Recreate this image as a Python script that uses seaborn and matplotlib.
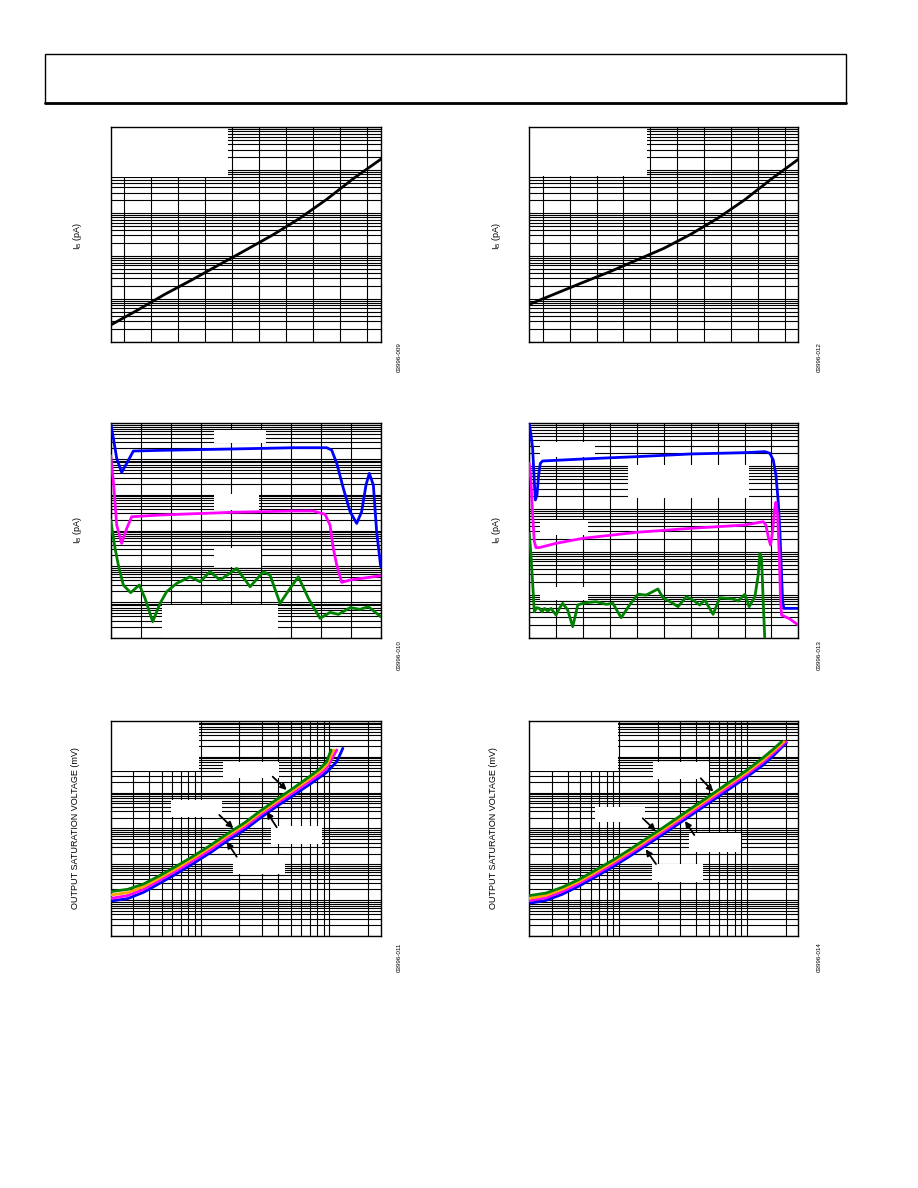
import numpy as np
import matplotlib
matplotlib.use("Agg")
import matplotlib.pyplot as plt
from matplotlib.patches import Rectangle
from matplotlib.lines import Line2D
from matplotlib.ticker import LogLocator, MultipleLocator
import seaborn as sns

# ---- data ----
# top row: I_B vs temperature (deg C), pA
temp = [25, 35, 45, 55, 65, 75, 85, 95, 105, 115, 125]
ib_temp_left = [0.245, 0.548, 1.27, 2.75, 6.15, 13.7, 30.8, 75.3, 209, 646, 1791]
ib_temp_right = [0.743, 1.34, 2.42, 4.30, 8.04, 15.0, 31.9, 75.3, 202, 624, 1791]

# middle left: I_B vs common-mode voltage
vcm_l_blue = [0, 0.18, 0.4, 0.73, 1.07, 1.51, 3.29, 8.0, 12.18, 14.4, 14.73, 15.07,
              15.51, 15.96, 16.4, 16.73, 17.02, 17.24, 17.51, 17.73, 18.0]
ib_l_blue = [9950, 3787, 1045, 424, 757, 1675, 1749, 1905, 2075, 2075, 1786, 757,
             151, 33.6, 15.8, 33.6, 187, 397, 187, 9.25, 0.97]
vcm_l_mag = [0, 0.18, 0.4, 0.73, 1.07, 1.4, 3.29, 8.0, 12.18, 13.51, 14.29, 14.62,
             14.84, 15.07, 15.4, 15.96, 18.0]
ib_l_mag = [1239, 232, 14.2, 4.37, 11.5, 24.3, 27.1, 32.2, 35.1, 35.1, 28.3, 14.2,
            3.16, 1.08, 0.354, 0.411, 0.543]
vcm_l_grn = [0, 0.29, 0.51, 0.84, 1.33, 1.91, 2.29, 2.8, 3.29, 3.73, 4.4, 5.29, 5.96,
             6.62, 7.29, 8.4, 9.29, 10.18, 10.62, 11.29, 11.96, 12.51, 13.18, 13.96,
             14.62, 15.18, 15.96, 16.62, 17.18, 18.0]
ib_l_grn = [19.6, 3.16, 1.08, 0.298, 0.182, 0.298, 0.126, 0.0281, 0.0914, 0.194,
            0.332, 0.509, 0.369, 0.703, 0.411, 0.871, 0.267, 0.703, 0.567, 0.0914,
            0.240, 0.509, 0.126, 0.0348, 0.0512, 0.0450, 0.0692, 0.0621, 0.0738, 0.0387]

# middle right: I_B vs common-mode voltage
vcm_r_blue = [0, 0.031, 0.062, 0.093, 0.112, 0.143, 0.174, 0.205, 0.248, 1.0, 2.0, 3.0,
              4.006, 4.379, 4.472, 4.534, 4.584, 4.627, 4.658, 4.689, 4.708, 4.733, 5.0]
ib_r_blue = [10000, 5346, 2612, 436, 163, 213, 624, 1167, 1322, 1472, 1668, 1926,
             2068, 2183, 1995, 1396, 624, 149, 29.7, 2.90, 0.692, 0.483, 0.483]
vcm_r_mag = [0, 0.031, 0.062, 0.093, 0.124, 0.186, 0.497, 1.0, 2.0, 3.0, 4.006, 4.348,
             4.397, 4.447, 4.484, 4.522, 4.559, 4.584, 4.615, 4.646, 4.671, 4.689,
             4.845, 5.0]
ib_r_mag = [1167, 436, 72.8, 17.4, 12.6, 12.6, 15.9, 20.8, 28.7, 35.5, 42.5, 50.8,
            42.5, 20.8, 14.5, 29.7, 95.1, 144, 72.8, 8.48, 0.692, 0.338, 0.272, 0.197]
vcm_r_grn = [0, 0.031, 0.050, 0.075, 0.093, 0.137, 0.186, 0.236, 0.280, 0.342, 0.404,
             0.497, 0.559, 0.621, 0.714, 0.807, 0.901, 0.994, 1.118, 1.242, 1.429,
             1.553, 1.708, 1.863, 2.019, 2.174, 2.391, 2.484, 2.671, 2.764, 2.919,
             3.043, 3.168, 3.261, 3.416, 3.540, 3.789, 3.882, 4.006, 4.087, 4.193,
             4.255, 4.286, 4.317, 4.348, 4.379]
ib_r_grn = [27.2, 8.48, 3.47, 0.989, 0.404, 0.501, 0.483, 0.404, 0.483, 0.419, 0.483,
            0.338, 0.483, 0.632, 0.442, 0.181, 0.578, 0.632, 0.667, 0.692, 0.600,
            0.632, 0.293, 0.578, 1.03, 0.989, 1.37, 0.857, 0.632, 0.529, 0.904,
            0.757, 0.578, 0.757, 0.350, 0.857, 0.798, 0.716, 1.03, 0.529, 0.904,
            2.90, 9.27, 7.10, 0.692, 0.08]

# bottom left: output saturation voltage vs load current
iload_l = [0.02, 0.027, 0.036, 0.048, 0.065, 0.088, 0.12, 0.16, 0.22, 0.29, 0.39,
           0.53, 0.71, 0.85, 0.95]
iload_l_end = {"green": 1.03, "orange": 1.08, "magenta": 1.14}
vsat_l_grn = [0.173, 0.200, 0.283, 0.483, 0.898, 1.71, 3.47, 7.03, 14.6, 30.8, 65.2,
              138, 292, 478, 733, 1552]
vsat_l_org = [0.139, 0.162, 0.238, 0.416, 0.773, 1.50, 3.05, 6.18, 12.8, 27.1, 57.3,
              121, 251, 403, 592, 1552]
vsat_l_mag = [0.112, 0.134, 0.200, 0.358, 0.666, 1.29, 2.62, 5.43, 11.2, 23.8, 50.4,
              104, 216, 332, 478, 1552]
iload_l_blue = [0.02, 0.027, 0.036, 0.048, 0.065, 0.088, 0.12, 0.16, 0.22, 0.29, 0.39,
                0.53, 0.71, 0.95, 1.14, 1.27]
vsat_l_blue = [0.0948, 0.110, 0.166, 0.295, 0.549, 1.07, 2.16, 4.48, 9.27, 19.6, 41.6,
               86.1, 175, 369, 733, 1726]

# bottom right: output saturation voltage vs load current
iload_r = [0.02, 0.027, 0.036, 0.049, 0.066, 0.09, 0.121, 0.163, 0.22, 0.297, 0.40,
           0.54, 0.73, 0.99, 1.33, 1.59]
iload_r_end = {"green": 1.85, "orange": 1.93, "magenta": 2.0, "blue": 2.02}
vsat_r_grn = [0.134, 0.158, 0.228, 0.381, 0.695, 1.32, 2.57, 5.20, 10.5, 21.9, 45.3,
              93.8, 199, 420, 948, 1619, 2649]
vsat_r_org = [0.112, 0.136, 0.200, 0.336, 0.611, 1.16, 2.26, 4.57, 9.27, 19.2, 39.8,
              82.4, 175, 369, 817, 1423, 2649]
vsat_r_mag = [0.0968, 0.117, 0.173, 0.295, 0.537, 1.02, 1.99, 4.03, 8.16, 16.9, 35.0,
              72.5, 153, 325, 718, 1253, 2649]
vsat_r_blue = [0.0816, 0.0989, 0.145, 0.249, 0.453, 0.861, 1.67, 3.39, 6.87, 14.2, 29.5,
               61.1, 129, 274, 592, 1055, 2483]

BLUE, MAG, GRN, ORG = "#0000ff", "#ff00ff", "#008000", "#ffa500"

sns.set_theme(style="white")
plt.rcParams['font.family'] = ['Liberation Sans', 'DejaVu Sans']

W, H = 918, 1188
fig = plt.figure(figsize=(W / 100, H / 100), dpi=100)


def fx(px):
    return px / W


def fy(py):
    return 1 - py / H


def make_axes(l, t, r, b, xlim, ylim, xlog=False):
    ax = fig.add_axes([fx(l), fy(b), (r - l) / W, (b - t) / H])
    ax.set_yscale("log")
    ax.set_ylim(*ylim)
    ax.yaxis.set_major_locator(LogLocator(base=10, numticks=20))
    ax.yaxis.set_minor_locator(LogLocator(base=10, subs=np.arange(2, 10), numticks=200))
    if xlog:
        ax.set_xscale("log")
        ax.xaxis.set_major_locator(LogLocator(base=10, numticks=20))
        ax.xaxis.set_minor_locator(LogLocator(base=10, subs=np.arange(2, 10), numticks=200))
    ax.set_xlim(*xlim)
    ax.set_axisbelow(True)
    ax.grid(True, which="both", color="black", lw=0.8)
    ax.tick_params(which="both", length=0, labelleft=False, labelbottom=False)
    for s in ax.spines.values():
        s.set_color("black")
        s.set_linewidth(1.0)
    return ax


def blank(ax, l, t, r, b):
    ax.add_patch(Rectangle((fx(l), fy(b)), (r - l) / W, (b - t) / H,
                           transform=fig.transFigure, facecolor="white",
                           edgecolor="none", zorder=1))


def arrow(ax, tail, head):
    ax.annotate("", xy=(fx(head[0]), fy(head[1])), xycoords="figure fraction",
                xytext=(fx(tail[0]), fy(tail[1])), textcoords="figure fraction",
                arrowprops=dict(arrowstyle="-|>", color="black", lw=1.3,
                                mutation_scale=9, shrinkA=0, shrinkB=0))


def curve(ax, x, y, color, lw=2.0):
    sns.lineplot(x=x, y=y, ax=ax, color=color, lw=lw, estimator=None, sort=False,
                 zorder=3)


# header frame
fig.add_artist(Rectangle((fx(45), fy(103)), 801 / W, 49 / H, transform=fig.transFigure,
                         facecolor="none", edgecolor="black", lw=1.0))
fig.add_artist(Line2D([fx(45), fx(846)], [fy(102.5), fy(102.5)],
                      transform=fig.transFigure, color="black", lw=2.0))

IB = "I$_\\mathregular{B}$ (pA)"
VS = "OUTPUT SATURATION VOLTAGE (mV)"

# --- top left
ax1 = make_axes(110.7, 127.3, 380.7, 341.7, (25, 125), (0.1, 1e4))
ax1.xaxis.set_major_locator(MultipleLocator(10))
blank(ax1, 110.7, 127.3, 228.3, 176.5)
curve(ax1, temp, ib_temp_left, "black")

# --- top right
ax2 = make_axes(529.3, 127.3, 798.3, 341.7, (25, 125), (0.1, 1e4))
ax2.xaxis.set_major_locator(MultipleLocator(10))
blank(ax2, 529.3, 127.3, 646.7, 175.5)
curve(ax2, temp, ib_temp_right, "black")

# --- middle left
ax3 = make_axes(110.7, 423.3, 380.7, 637.7, (0, 18), (0.01, 1e4))
ax3.xaxis.set_major_locator(MultipleLocator(2))
blank(ax3, 214, 430, 265.7, 443.3)
blank(ax3, 214, 494.3, 259.3, 510)
blank(ax3, 214, 548, 261, 566.7)
blank(ax3, 161.7, 605, 278.3, 638)
curve(ax3, vcm_l_blue, ib_l_blue, BLUE)
curve(ax3, vcm_l_mag, ib_l_mag, MAG)
curve(ax3, vcm_l_grn, ib_l_grn, GRN)

# --- middle right
ax4 = make_axes(529.3, 423.3, 798.3, 637.7, (0, 5), (0.1, 1e4))
ax4.xaxis.set_major_locator(MultipleLocator(0.5))
blank(ax4, 540, 441.7, 595, 456.7)
blank(ax4, 627.7, 465, 749.3, 498.3)
blank(ax4, 540, 520, 588.3, 535)
blank(ax4, 540, 586.7, 588.3, 600)
curve(ax4, vcm_r_blue, ib_r_blue, BLUE)
curve(ax4, vcm_r_mag, ib_r_mag, MAG)
curve(ax4, vcm_r_grn, ib_r_grn, GRN)

# --- bottom left
ax5 = make_axes(110.7, 721, 380.7, 936, (0.02, 2.5), (0.01, 1e4), xlog=True)
blank(ax5, 110.7, 721, 199.3, 771)
blank(ax5, 223.3, 761.7, 279.3, 778.3)
blank(ax5, 171, 800, 221.7, 817.3)
blank(ax5, 271, 826, 321.7, 844)
blank(ax5, 233.3, 855, 285, 874)
curve(ax5, iload_l_blue, vsat_l_blue, BLUE)
curve(ax5, iload_l + [iload_l_end["magenta"]], vsat_l_mag, MAG)
curve(ax5, iload_l + [iload_l_end["orange"]], vsat_l_org, ORG)
curve(ax5, iload_l + [iload_l_end["green"]], vsat_l_grn, GRN)
arrow(ax5, (272.7, 776.7), (286.7, 790))
arrow(ax5, (219.3, 815), (233.3, 828.3))
arrow(ax5, (276.7, 827.3), (266.7, 811.7))
arrow(ax5, (236.7, 856.7), (226.7, 841.7))

# --- bottom right
ax6 = make_axes(529.3, 721, 798.3, 936, (0.02, 2.5), (0.01, 1e4), xlog=True)
blank(ax6, 529.3, 721, 618.3, 771)
blank(ax6, 652.7, 761.7, 709.3, 779)
blank(ax6, 595, 806.7, 645, 821.7)
blank(ax6, 689.3, 833.3, 741, 851.7)
blank(ax6, 651.7, 864, 702.7, 881.7)
curve(ax6, iload_r + [iload_r_end["blue"]], vsat_r_blue, BLUE)
curve(ax6, iload_r + [iload_r_end["magenta"]], vsat_r_mag, MAG)
curve(ax6, iload_r + [iload_r_end["orange"]], vsat_r_org, ORG)
curve(ax6, iload_r + [iload_r_end["green"]], vsat_r_grn, GRN)
arrow(ax6, (700.7, 778.3), (713.3, 791.7))
arrow(ax6, (642.7, 818.3), (655.7, 830.7))
arrow(ax6, (694.3, 835), (685, 821))
arrow(ax6, (656, 864), (645.7, 849.3))

for ax in [ax1, ax2, ax3, ax4, ax5, ax6]:
    ax.set_xlabel("")
    ax.set_ylabel("")

# axis labels
ylabels = [(77, 236, IB), (496, 236, IB), (77, 530, IB), (496, 530, IB),
           (76, 828, VS), (494, 828, VS)]
for x, y, s in ylabels:
    fig.text(fx(x), fy(y), s, rotation=90, fontsize=6.5, color="black",
             ha="center", va="center")

# figure codes
codes = [(399, 357, "03996-009"), (819, 357, "03996-012"),
         (399, 655, "03996-010"), (819, 655, "03996-013"),
         (399, 957, "03996-011"), (819, 957, "03996-014")]
for x, y, s in codes:
    fig.text(fx(x), fy(y), s, rotation=90, fontsize=4.5, color="black",
             ha="center", va="center")

fig.savefig("out.png", dpi=100, facecolor="white")
